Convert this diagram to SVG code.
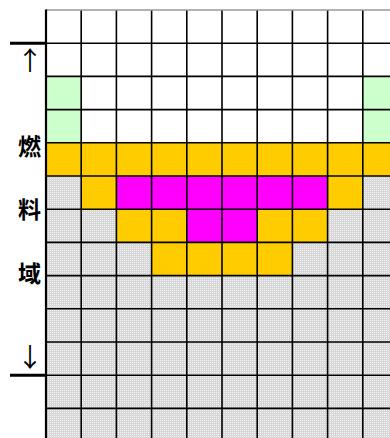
<svg xmlns="http://www.w3.org/2000/svg" width="390" height="438" viewBox="0 0 390 438">
<defs>
<pattern id="dots" width="2" height="2" patternUnits="userSpaceOnUse">
<rect width="2" height="2" fill="#d6d6d6"/>
<rect width="1" height="1" fill="#f4f4f4"/>
</pattern>
</defs>
<style>
.w{fill:#ffffff}.g{fill:#ccffcc}.o{fill:#ffcc00}.m{fill:#ff00ff}.s{fill:url(#dots)}
.grid{stroke:#000;stroke-width:1.6;fill:none}
.bar{stroke:#000;stroke-width:3;fill:none}
.lbl{font-family:"Noto Sans CJK JP","Noto Sans CJK SC",sans-serif;font-size:23px;font-weight:bold;fill:#000;text-anchor:middle}
.arr{font-family:"Noto Sans CJK JP","Noto Sans CJK SC",sans-serif;font-size:26px;fill:#000;text-anchor:middle}
</style>
<rect width="390" height="438" fill="#ffffff"/>
<g id="cells">
<rect class="w" x="46" y="10" width="344" height="132.8"/>
<rect class="g" x="46" y="76.4" width="35.2" height="66.4"/>
<rect class="g" x="362.8" y="76.4" width="35.2" height="66.4"/>
<rect class="o" x="46" y="142.8" width="344" height="33.2"/>
<rect class="s" x="46" y="176" width="344" height="262"/>
<rect class="o" x="81.2" y="176" width="35.2" height="33.2"/>
<rect class="m" x="116.4" y="176" width="211.2" height="33.2"/>
<rect class="o" x="327.6" y="176" width="35.2" height="33.2"/>
<rect class="o" x="116.4" y="209.2" width="70.4" height="33.2"/>
<rect class="m" x="186.8" y="209.2" width="70.4" height="33.2"/>
<rect class="o" x="257.2" y="209.2" width="70.4" height="33.2"/>
<rect class="o" x="151.6" y="242.4" width="140.8" height="33.2"/>
</g>
<g id="grid">
<path class="grid" d="M81.2 10V438M116.4 10V438M151.6 10V438M186.8 10V438M222 10V438M257.2 10V438M292.4 10V438M327.6 10V438M362.8 10V438"/>
<path class="grid" d="M46 43.2H390M46 76.4H390M46 109.6H390M46 142.8H390M46 176H390M46 209.2H390M46 242.4H390M46 275.6H390M46 308.8H390M46 342H390M46 375.2H390M46 408.4H390"/>
<path d="M46 10H390" stroke="#999" stroke-width="1.4"/>
<path d="M46 9.5V438" stroke="#000" stroke-width="2.2"/>
</g>
<g id="side">
<path class="bar" d="M10 43.2H46M10 375.2H46"/>
<text class="arr" x="30" y="70">↑</text>
<text class="lbl" x="29.5" y="155">燃</text>
<text class="lbl" x="29.5" y="218">料</text>
<text class="lbl" x="29.5" y="282">域</text>
<text class="arr" x="30" y="367">↓</text>
</g>
</svg>
